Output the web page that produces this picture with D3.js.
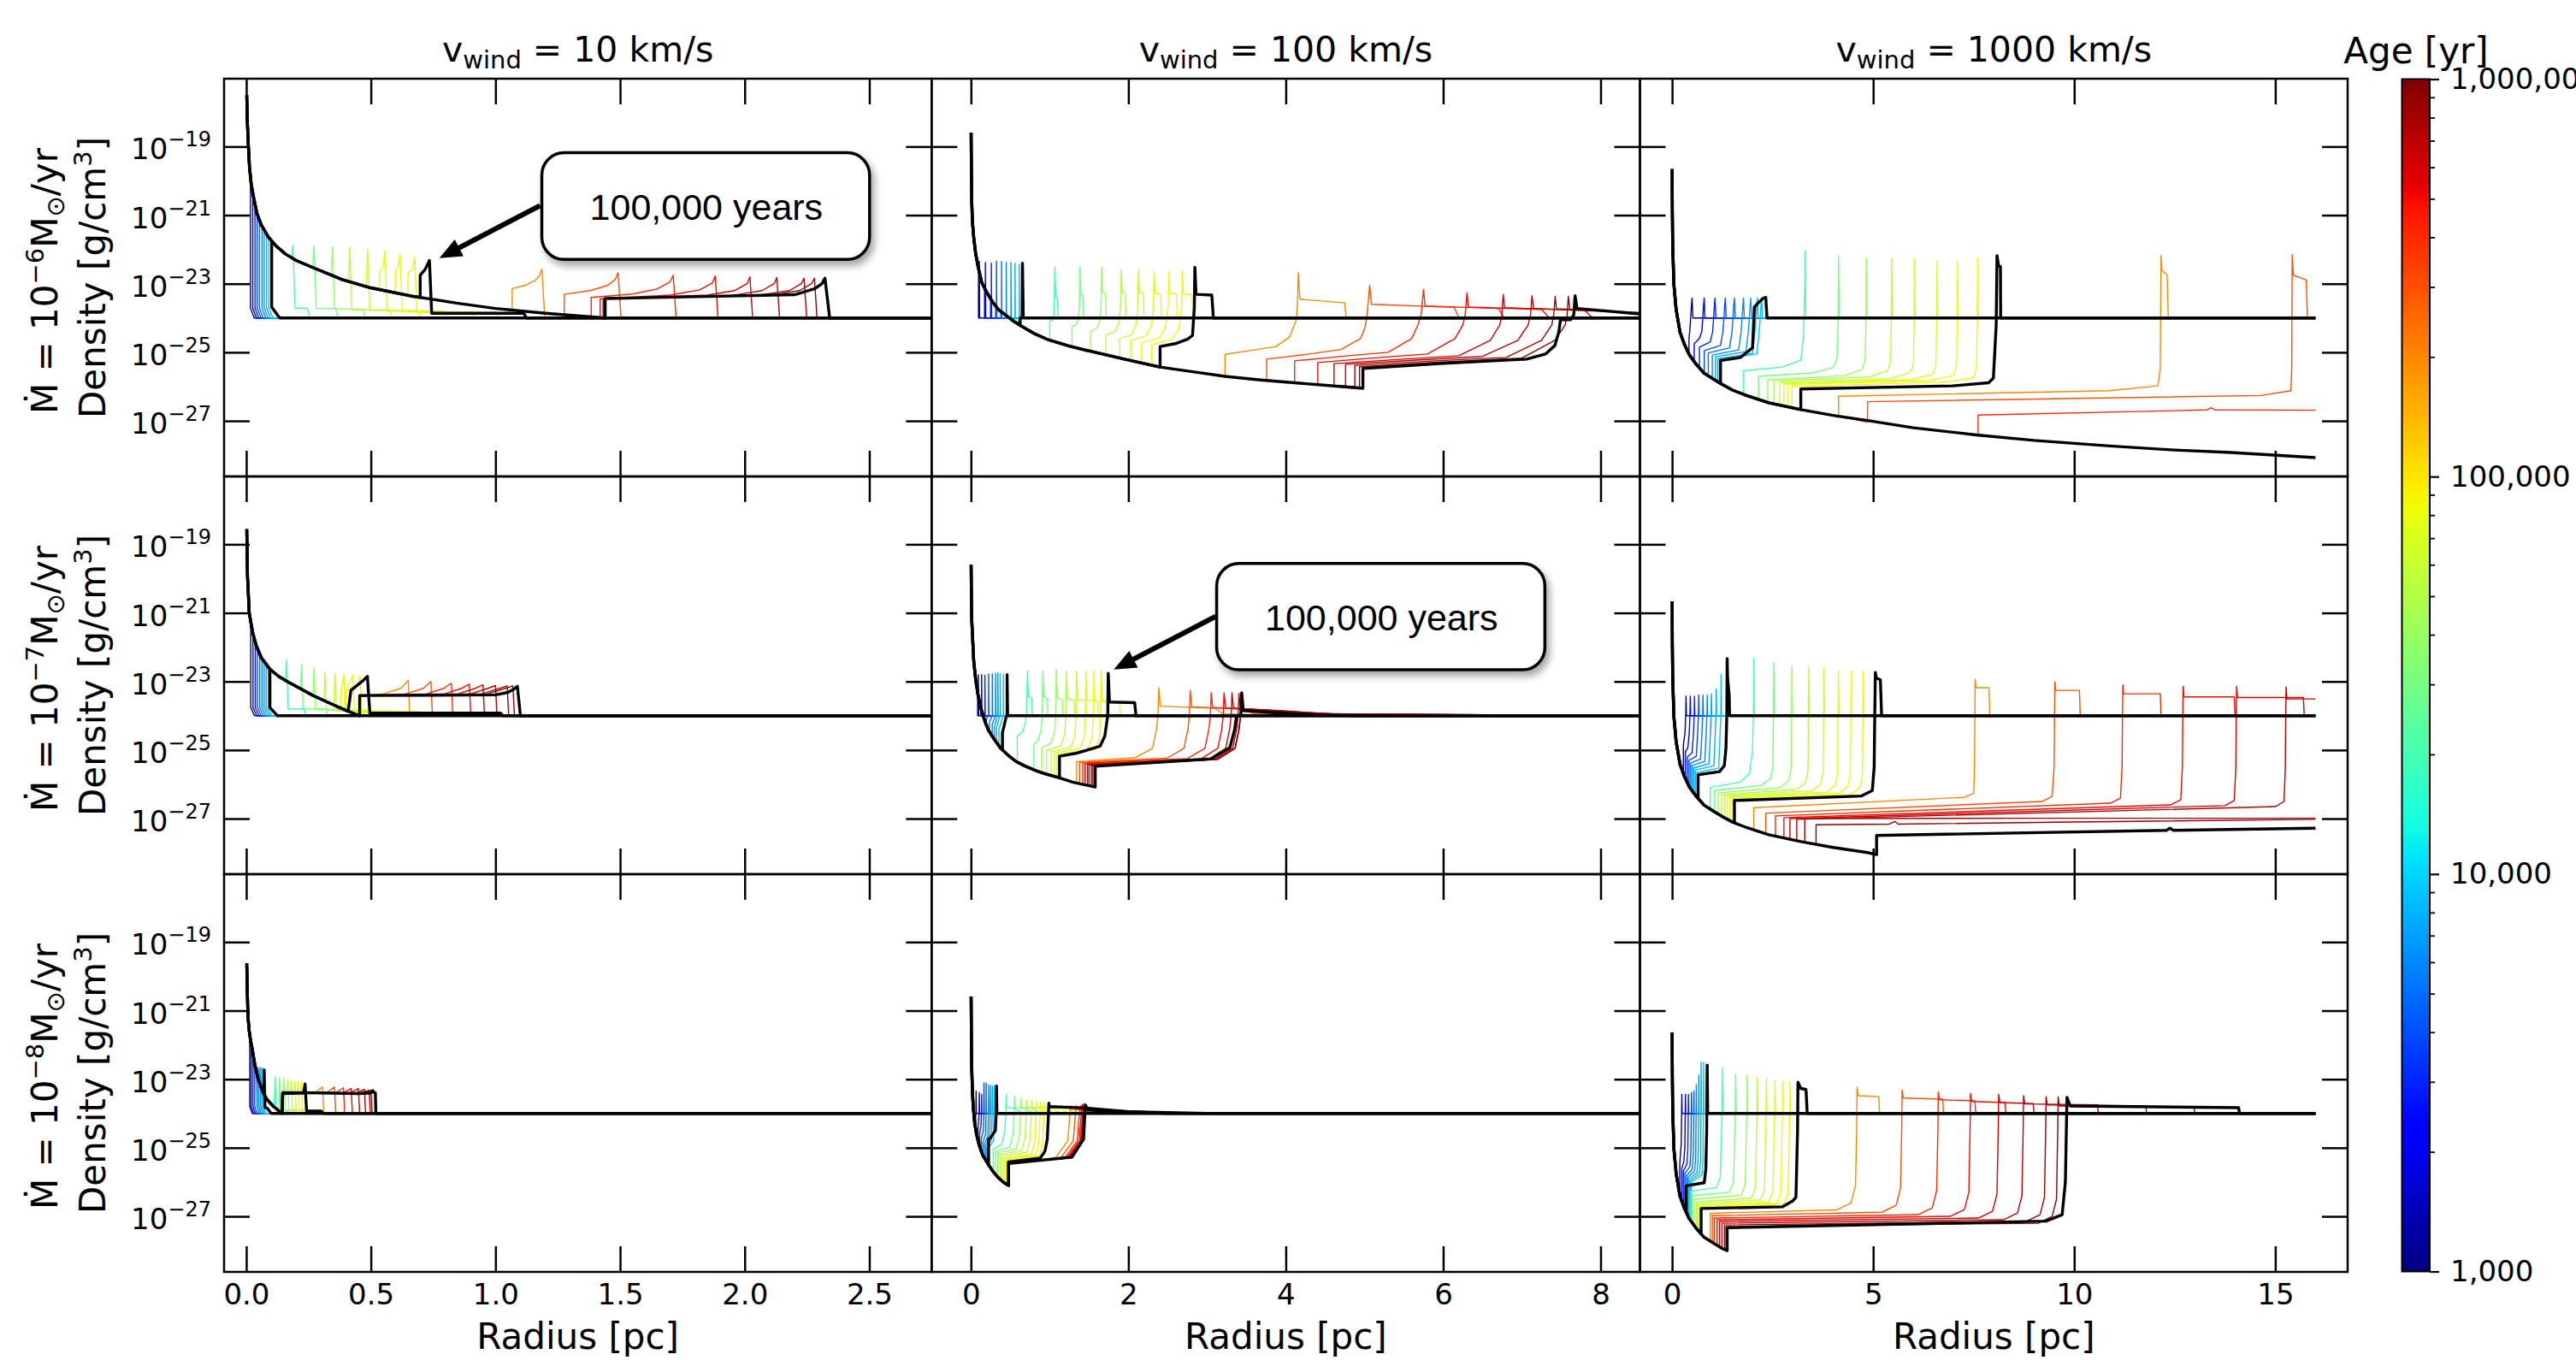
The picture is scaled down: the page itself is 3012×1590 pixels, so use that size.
<!DOCTYPE html>
<html>
<head>
<meta charset="utf-8">
<script src="https://cdn.jsdelivr.net/npm/d3@7"></script>
<style>
  body { margin: 0; background: #fff; }
  svg { display: block; }
</style>
</head>
<body>
<svg id="fig" width="3012" height="1590"></svg>
<script>
// ---- values: radius [pc], log10 density [g/cm^3] ----
const AMBIENT = -24;
const R_END = 16;
const BLACK_AGES = [1e4, 1e5, 1e6];

const COL_VWIND = ['10', '100', '1000'];
const ROW_MDOT = ['\u22126', '\u22127', '\u22128'];
const X_DOMAINS = [[-0.089, 2.75], [-0.5, 8.5], [-0.8, 16.8]];
const X_TICKS = [[0, 0.5, 1, 1.5, 2, 2.5], [0, 2, 4, 6, 8], [0, 5, 10, 15]];
const Y_DOMAIN = [-28.62, -17.02];
const Y_TICKS = [-19, -21, -23, -25, -27];
const AGE_TICKS = [1e3, 1e4, 1e5, 1e6];
const AGE_MINOR = [2e3,3e3,4e3,5e3,6e3,7e3,8e3,9e3,2e4,3e4,4e4,5e4,6e4,7e4,8e4,9e4,2e5,3e5,4e5,5e5,6e5,7e5,8e5,9e5];

// free-wind envelopes (black r^-2 part), one per panel
const env11 = [[0.002,-17.5],[0.004,-18.2],[0.008,-18.9],[0.013,-19.6],[0.02,-20.1],[0.03,-20.5],[0.043,-20.95],[0.06,-21.28],[0.088,-21.63],[0.12,-21.9],[0.157,-22.13],[0.2,-22.32],[0.271,-22.54],[0.385,-22.88],[0.5,-23.12],[0.671,-23.37],[0.85,-23.57],[1.0,-23.72],[1.2,-23.86],[1.44,-24.0]];
const env12 = [[0.002,-18.6],[0.006,-19.9],[0.01,-20.6],[0.018,-21.18],[0.035,-21.65],[0.059,-22.11],[0.09,-22.5],[0.135,-22.95],[0.2,-23.25],[0.28,-23.55],[0.36,-23.78],[0.45,-23.93],[0.54,-24.09],[0.636,-24.23],[0.8,-24.45],[0.99,-24.64],[1.25,-24.82],[1.52,-24.97],[1.95,-25.2],[2.4,-25.43],[2.8,-25.56],[3.23,-25.7],[3.65,-25.8],[4.11,-25.89],[4.55,-25.97],[4.98,-26.05]];
const env13 = [[0.002,-19.66],[0.006,-20.9],[0.015,-21.9],[0.045,-23.03],[0.1,-23.75],[0.196,-24.41],[0.3,-24.75],[0.421,-25.06],[0.6,-25.35],[0.797,-25.61],[1.0,-25.76],[1.249,-25.94],[1.5,-26.1],[1.85,-26.26],[2.4,-26.47],[3.2,-26.67],[4.0,-26.84],[4.86,-26.99],[6.0,-27.2],[7.57,-27.41],[9.0,-27.57],[10.88,-27.73],[12.5,-27.85],[13.89,-27.92],[16.0,-28.07]];
const env21 = [[0.002,-18.56],[0.005,-19.93],[0.012,-21.0],[0.025,-21.55],[0.04,-21.95],[0.06,-22.3],[0.096,-22.65],[0.13,-22.85],[0.169,-23.02],[0.22,-23.22],[0.265,-23.4],[0.31,-23.55],[0.361,-23.72],[0.41,-23.87],[0.455,-24.0]];
const env22 = [[0.002,-19.6],[0.006,-20.7],[0.01,-21.2],[0.018,-21.6],[0.035,-22.4],[0.059,-22.93],[0.09,-23.4],[0.135,-23.85],[0.18,-24.18],[0.224,-24.43],[0.3,-24.7],[0.371,-24.93],[0.47,-25.15],[0.576,-25.34],[0.7,-25.48],[0.813,-25.59],[0.95,-25.7],[1.107,-25.8],[1.3,-25.94],[1.579,-26.08]];
const env23 = [[0.002,-20.66],[0.006,-21.9],[0.015,-22.9],[0.045,-24.03],[0.1,-24.75],[0.196,-25.41],[0.3,-25.75],[0.421,-26.06],[0.6,-26.35],[0.797,-26.61],[1.0,-26.76],[1.249,-26.94],[1.5,-27.1],[1.85,-27.26],[2.4,-27.47],[3.2,-27.67],[4.0,-27.84],[4.86,-27.99],[5.085,-28.05]];
const env31 = [[0.002,-19.62],[0.004,-20.4],[0.007,-21.19],[0.012,-21.6],[0.018,-21.9],[0.024,-22.12],[0.035,-22.6],[0.048,-23.0],[0.065,-23.35],[0.084,-23.6],[0.11,-23.8],[0.144,-24.0]];
const env32 = [[0.002,-20.59],[0.006,-22.0],[0.01,-22.7],[0.018,-23.35],[0.03,-23.85],[0.047,-24.28],[0.07,-24.6],[0.106,-24.94],[0.15,-25.22],[0.224,-25.5],[0.283,-25.7],[0.342,-25.86],[0.41,-26.0],[0.477,-26.1]];
const env33 = [[0.002,-21.64],[0.006,-22.9],[0.015,-23.9],[0.045,-25.03],[0.1,-25.75],[0.196,-26.41],[0.3,-26.75],[0.421,-27.06],[0.6,-27.35],[0.797,-27.61],[1.0,-27.76],[1.249,-27.94],[1.37,-28.0]];

// profiles: [age, r0, logrho0, r1, logrho1, ...] — the part after leaving the free wind
const cur11 = [
  [1000, 0.017,-19.9, 0.017,-23.71, 0.032,-24],
  [2000, 0.026,-20.32, 0.026,-23.71, 0.041,-24],
  [3000, 0.035,-20.65, 0.035,-23.71, 0.05,-24],
  [4000, 0.044,-20.98, 0.044,-23.71, 0.059,-24],
  [5000, 0.053,-21.15, 0.053,-23.71, 0.068,-24],
  [6000, 0.063,-21.31, 0.063,-23.7, 0.078,-24],
  [7000, 0.072,-21.43, 0.072,-23.7, 0.087,-24],
  [8000, 0.081,-21.55, 0.081,-23.7, 0.097,-24],
  [9000, 0.09,-21.65, 0.09,-23.69, 0.107,-24],
  [10000, 0.102,-21.75, 0.102,-23.68, 0.134,-24],
  [20000, 0.182,-22.24, 0.187,-21.88, 0.196,-23.71, 0.245,-23.71, 0.255,-24],
  [30000, 0.267,-22.53, 0.272,-21.9, 0.281,-23.72, 0.359,-23.72, 0.369,-24],
  [40000, 0.341,-22.76, 0.346,-21.93, 0.355,-23.74, 0.468,-23.74, 0.478,-24],
  [50000, 0.41,-22.93, 0.415,-21.94, 0.424,-23.76, 0.576,-23.76, 0.586,-24],
  [60000, 0.482,-23.1, 0.487,-21.99, 0.496,-23.78, 0.691,-23.78, 0.701,-24],
  [70000, 0.535,-23.19, 0.535,-22.63, 0.55,-22.5, 0.556,-22.04, 0.565,-23.8, 0.794,-23.8, 0.804,-24],
  [80000, 0.598,-23.28, 0.598,-22.63, 0.61,-22.5, 0.617,-22.13, 0.626,-23.82, 0.902,-23.82, 0.912,-24],
  [90000, 0.649,-23.35, 0.649,-22.71, 0.668,-22.55, 0.676,-22.23, 0.685,-23.84, 1.005,-23.84, 1.015,-24],
  [100000, 0.698,-23.4, 0.698,-22.75, 0.718,-22.58, 0.735,-22.32, 0.744,-23.86, 1.114,-23.86, 1.124,-24],
  [200000, 1.067,-23.74, 1.067,-23.14, 1.12,-23.05, 1.16,-22.9, 1.178,-22.75, 1.186,-22.57, 1.198,-24],
  [300000, 1.276,-23.9, 1.276,-23.31, 1.38,-23.2, 1.45,-23.05, 1.48,-22.88, 1.492,-22.68, 1.504,-24],
  [400000, 1.384,-23.97, 1.384,-23.4, 1.55,-23.3, 1.65,-23.15, 1.7,-22.95, 1.713,-22.75, 1.725,-24],
  [500000, 1.42,-24, 1.42,-23.44, 1.7,-23.33, 1.82,-23.18, 1.87,-22.98, 1.882,-22.78, 1.893,-24],
  [600000, 1.432,-24, 1.432,-23.44, 1.85,-23.33, 1.96,-23.2, 2.01,-23.0, 2.021,-22.8, 2.032,-24],
  [700000, 1.435,-24, 1.435,-23.44, 1.95,-23.34, 2.07,-23.2, 2.118,-23.0, 2.129,-22.82, 2.14,-24],
  [800000, 1.437,-24, 1.437,-23.44, 2.05,-23.34, 2.18,-23.2, 2.227,-23.0, 2.238,-22.84, 2.249,-24],
  [900000, 1.438,-24, 1.438,-23.44, 2.1,-23.34, 2.22,-23.2, 2.268,-23.0, 2.28,-22.84, 2.29,-24],
  [1000000, 1.44,-24, 1.44,-23.43, 2.2,-23.32, 2.28,-23.15, 2.31,-23.0, 2.322,-22.84, 2.341,-24]
];
const cur12 = [
  [1000, 0.096,-22.5, 0.096,-24, 0.106,-24, 0.106,-22.34, 0.11,-24],
  [2000, 0.173,-23.2, 0.173,-24, 0.183,-24, 0.183,-22.38, 0.187,-24],
  [3000, 0.249,-23.45, 0.249,-24, 0.259,-24, 0.259,-22.4, 0.263,-24],
  [4000, 0.314,-23.62, 0.314,-24, 0.324,-24, 0.324,-22.34, 0.328,-24],
  [5000, 0.379,-23.8, 0.379,-24, 0.389,-24, 0.389,-22.35, 0.393,-24],
  [6000, 0.438,-23.92, 0.438,-24, 0.448,-24, 0.448,-22.38, 0.452,-24],
  [7000, 0.497,-24.03, 0.497,-24, 0.507,-24, 0.507,-22.38, 0.511,-24],
  [8000, 0.55,-24.1, 0.55,-24, 0.56,-24, 0.56,-22.4, 0.564,-24],
  [9000, 0.603,-24.18, 0.603,-24, 0.613,-24, 0.613,-22.43, 0.617,-24],
  [10000, 0.625,-24.21, 0.625,-24, 0.65,-24, 0.654,-22.4, 0.665,-24],
  [20000, 1.001,-24.65, 1.001,-24.1, 1.04,-24.05, 1.055,-23.9, 1.066,-22.5, 1.078,-23.4, 1.1,-23.42, 1.107,-24],
  [30000, 1.284,-24.83, 1.284,-24.25, 1.34,-24.18, 1.365,-24.0, 1.378,-23.7, 1.384,-22.5, 1.396,-23.3, 1.42,-23.32, 1.43,-24],
  [40000, 1.52,-24.97, 1.52,-24.4, 1.6,-24.3, 1.635,-24.1, 1.652,-23.7, 1.661,-22.52, 1.673,-23.25, 1.71,-23.28, 1.72,-24],
  [50000, 1.714,-25.07, 1.714,-24.5, 1.83,-24.4, 1.88,-24.15, 1.9,-23.7, 1.909,-22.6, 1.921,-23.25, 1.96,-23.28, 1.97,-24],
  [60000, 1.891,-25.17, 1.891,-24.6, 2.04,-24.48, 2.1,-24.2, 2.118,-23.7, 2.127,-22.57, 2.139,-23.25, 2.19,-23.28, 2.2,-24],
  [70000, 2.032,-25.24, 2.032,-24.65, 2.22,-24.52, 2.29,-24.25, 2.318,-23.7, 2.327,-22.63, 2.339,-23.28, 2.41,-23.3, 2.42,-24],
  [80000, 2.168,-25.31, 2.168,-24.72, 2.39,-24.58, 2.47,-24.3, 2.505,-23.7, 2.515,-22.66, 2.527,-23.28, 2.61,-23.3, 2.62,-24],
  [90000, 2.297,-25.38, 2.297,-24.78, 2.55,-24.62, 2.64,-24.35, 2.676,-23.7, 2.686,-22.64, 2.698,-23.3, 2.81,-23.32, 2.82,-24],
  [100000, 2.403,-25.43, 2.403,-24.83, 2.61,-24.74, 2.75,-24.62, 2.815,-24.51, 2.838,-23.7, 2.845,-22.52, 2.86,-23.31, 3.06,-23.33, 3.08,-24],
  [200000, 3.228,-25.7, 3.228,-25.06, 3.6,-24.93, 3.876,-24.83, 4.05,-24.55, 4.135,-24.05, 4.15,-23.5, 4.159,-22.68, 4.18,-23.45, 4.748,-23.56, 4.77,-24],
  [300000, 3.758,-25.8, 3.758,-25.2, 4.3,-25.05, 4.7,-24.92, 4.95,-24.6, 5.0,-24.32, 5.03,-24.0, 5.066,-23.05, 5.09,-23.6, 6.14,-23.69, 6.2,-24],
  [400000, 4.112,-25.89, 4.112,-25.25, 4.8,-25.1, 5.3,-25.0, 5.6,-24.6, 5.68,-24.2, 5.72,-23.9, 5.75,-23.17, 5.77,-23.65, 6.7,-23.72, 6.78,-24],
  [500000, 4.407,-25.94, 4.407,-25.3, 5.2,-25.15, 5.8,-25.05, 6.15,-24.6, 6.25,-24.2, 6.28,-23.9, 6.303,-23.26, 6.32,-23.68, 7.25,-23.75, 7.35,-24],
  [600000, 4.613,-25.97, 4.613,-25.33, 5.5,-25.2, 6.2,-25.1, 6.6,-24.65, 6.72,-24.2, 6.745,-23.9, 6.763,-23.31, 6.78,-23.7, 7.8,-23.78, 7.9,-24],
  [700000, 4.76,-25.99, 4.76,-25.35, 5.7,-25.22, 6.5,-25.12, 6.95,-24.65, 7.08,-24.2, 7.11,-23.9, 7.128,-23.35, 7.15,-23.72, 8.2,-23.82, 8.5,-23.9, 9,-24],
  [800000, 4.878,-26.0, 4.878,-25.38, 5.9,-25.25, 6.8,-25.15, 7.25,-24.65, 7.38,-24.2, 7.405,-23.9, 7.423,-23.37, 7.44,-23.73, 8.5,-23.84, 9,-24],
  [900000, 4.937,-26.02, 4.937,-25.42, 6.0,-25.28, 7.0,-25.17, 7.42,-24.65, 7.55,-24.2, 7.575,-23.9, 7.59,-23.37, 7.61,-23.74, 8.5,-23.86, 9,-24],
  [1000000, 4.98,-26.05, 4.98,-25.47, 6.0,-25.32, 7.06,-25.2, 7.3,-25.05, 7.42,-24.8, 7.47,-24.4, 7.49,-24.05, 7.62,-24.05, 7.66,-23.9, 7.676,-23.35, 7.7,-23.72, 8.5,-23.88, 9,-24]
];
const cur13 = [
  [1000, 0.42,-25.06, 0.42,-24.6, 0.437,-24.4, 0.462,-24.0, 0.482,-23.6, 0.497,-23.42, 0.517,-24],
  [2000, 0.55,-25.3, 0.55,-24.75, 0.678,-24.6, 0.738,-24.4, 0.763,-24.0, 0.783,-23.6, 0.798,-23.42, 0.818,-24],
  [3000, 0.68,-25.48, 0.68,-24.85, 0.948,-24.7, 1.008,-24.4, 1.033,-24.0, 1.053,-23.6, 1.068,-23.42, 1.088,-24],
  [4000, 0.8,-25.61, 0.8,-24.95, 1.204,-24.8, 1.264,-24.4, 1.289,-24.0, 1.309,-23.6, 1.324,-23.42, 1.344,-24],
  [5000, 0.9,-25.7, 0.9,-25.02, 1.43,-24.87, 1.49,-24.4, 1.515,-24.0, 1.535,-23.6, 1.55,-23.42, 1.57,-24],
  [6000, 1.0,-25.76, 1.0,-25.08, 1.656,-24.93, 1.716,-24.4, 1.741,-24.0, 1.761,-23.6, 1.776,-23.42, 1.796,-24],
  [7000, 1.08,-25.83, 1.08,-25.13, 1.836,-24.98, 1.896,-24.4, 1.921,-24.0, 1.941,-23.6, 1.956,-23.42, 1.976,-24],
  [8000, 1.14,-25.87, 1.14,-25.18, 2.001,-25.03, 2.061,-24.4, 2.086,-24.0, 2.106,-23.6, 2.121,-23.42, 2.141,-24],
  [9000, 1.18,-25.9, 1.18,-25.2, 2.107,-25.05, 2.167,-24.4, 2.192,-24.0, 2.212,-23.6, 2.227,-23.42, 2.247,-24],
  [10000, 1.204,-25.91, 1.204,-25.24, 1.7,-25.15, 2.0,-24.87, 2.046,-23.68, 2.15,-23.55, 2.27,-23.42, 2.33,-23.4, 2.36,-24],
  [20000, 1.776,-26.2, 1.776,-25.54, 2.75,-25.43, 3.2,-25.23, 3.27,-24.5, 3.3,-23.0, 3.31,-22.04, 3.325,-24],
  [30000, 2.15,-26.33, 2.15,-25.7, 3.5,-25.6, 4.0,-25.45, 4.1,-25.2, 4.13,-24.2, 4.14,-22.18, 4.155,-24],
  [40000, 2.38,-26.42, 2.38,-25.8, 4.3,-25.68, 4.72,-25.5, 4.8,-25.25, 4.82,-24.2, 4.83,-22.25, 4.845,-24],
  [50000, 2.53,-26.47, 2.53,-25.84, 4.9,-25.72, 5.35,-25.55, 5.43,-25.3, 5.45,-24.2, 5.46,-22.25, 5.475,-24],
  [60000, 2.68,-26.52, 2.68,-25.89, 5.4,-25.77, 5.92,-25.6, 6.0,-25.35, 6.02,-24.2, 6.03,-22.27, 6.045,-24],
  [70000, 2.78,-26.55, 2.78,-25.92, 5.9,-25.8, 6.48,-25.65, 6.56,-25.4, 6.58,-24.2, 6.59,-22.32, 6.605,-24],
  [80000, 2.87,-26.58, 2.87,-25.94, 6.4,-25.82, 7.0,-25.68, 7.07,-25.4, 7.09,-24.2, 7.1,-22.34, 7.115,-24],
  [90000, 2.98,-26.61, 2.98,-26.0, 6.9,-25.86, 7.5,-25.74, 7.57,-25.45, 7.59,-24.2, 7.6,-22.26, 7.615,-24],
  [100000, 3.2,-26.67, 3.2,-26.07, 6.97,-25.98, 7.87,-25.89, 7.99,-25.75, 8.06,-24.2, 8.08,-22.18, 8.12,-22.48, 8.165,-22.5, 8.17,-24],
  [200000, 4.14,-26.9, 4.14,-26.28, 10.88,-26.12, 12.08,-25.98, 12.14,-25.5, 12.16,-22.18, 12.18,-22.6, 12.31,-22.75, 12.34,-24],
  [300000, 4.86,-27.04, 4.86,-26.44, 14.64,-26.26, 15.39,-26.12, 15.41,-25.5, 15.42,-22.15, 15.45,-22.75, 15.77,-22.89, 15.8,-24],
  [400000, 7.61,-27.44, 7.61,-26.83, 13.3,-26.68, 13.4,-26.62, 13.5,-26.68, 16.0,-26.69],
  [1000000]
];
const cur21 = [
  [1000, 0.018,-21.2, 0.018,-23.76, 0.033,-24],
  [2000, 0.027,-21.6, 0.027,-23.76, 0.042,-24],
  [3000, 0.036,-21.85, 0.036,-23.76, 0.051,-24],
  [4000, 0.045,-22.03, 0.045,-23.76, 0.06,-24],
  [5000, 0.054,-22.2, 0.054,-23.76, 0.069,-24],
  [6000, 0.063,-22.33, 0.063,-23.76, 0.078,-24],
  [7000, 0.072,-22.45, 0.072,-23.76, 0.087,-24],
  [8000, 0.08,-22.53, 0.08,-23.76, 0.095,-24],
  [9000, 0.088,-22.6, 0.088,-23.76, 0.103,-24],
  [10000, 0.095,-22.65, 0.095,-23.76, 0.125,-24],
  [20000, 0.158,-22.97, 0.162,-22.37, 0.168,-23.8, 0.231,-23.8, 0.241,-24],
  [30000, 0.218,-23.21, 0.222,-22.51, 0.228,-23.8, 0.32,-23.8, 0.33,-24],
  [40000, 0.268,-23.41, 0.272,-22.6, 0.278,-23.82, 0.41,-23.82, 0.42,-24],
  [50000, 0.312,-23.56, 0.316,-22.75, 0.322,-23.84, 0.5,-23.84, 0.51,-24],
  [60000, 0.352,-23.69, 0.356,-22.76, 0.362,-23.86, 0.59,-23.86, 0.6,-24],
  [70000, 0.38,-23.78, 0.38,-23.3, 0.392,-22.8, 0.398,-23.88, 0.69,-23.88, 0.7,-24],
  [80000, 0.395,-23.82, 0.395,-23.3, 0.428,-22.8, 0.434,-23.9, 0.79,-23.9, 0.8,-24],
  [90000, 0.4,-23.84, 0.4,-23.28, 0.45,-23.05, 0.457,-22.83, 0.463,-23.91, 0.9,-23.91, 0.91,-24],
  [100000, 0.409,-23.87, 0.42,-23.26, 0.468,-22.98, 0.486,-22.85, 0.496,-23.92, 1.02,-23.92, 1.03,-24],
  [200000, 0.455,-24, 0.455,-23.42, 0.55,-23.36, 0.62,-23.2, 0.65,-22.97, 0.656,-24],
  [300000, 0.455,-24, 0.455,-23.42, 0.641,-23.36, 0.711,-23.2, 0.741,-23.0, 0.747,-24],
  [400000, 0.455,-24, 0.455,-23.42, 0.723,-23.36, 0.793,-23.2, 0.823,-23.05, 0.829,-24],
  [500000, 0.455,-24, 0.455,-23.42, 0.795,-23.36, 0.865,-23.2, 0.895,-23.08, 0.901,-24],
  [600000, 0.455,-24, 0.455,-23.42, 0.85,-23.36, 0.92,-23.2, 0.95,-23.1, 0.956,-24],
  [700000, 0.455,-24, 0.455,-23.42, 0.9,-23.36, 0.97,-23.2, 1.0,-23.12, 1.006,-24],
  [800000, 0.455,-24, 0.455,-23.42, 0.947,-23.36, 1.017,-23.2, 1.047,-23.13, 1.053,-24],
  [900000, 0.455,-24, 0.455,-23.42, 0.97,-23.36, 1.04,-23.2, 1.07,-23.13, 1.076,-24],
  [1000000, 0.455,-24, 0.455,-23.41, 1.0,-23.39, 1.05,-23.32, 1.075,-23.22, 1.088,-23.14, 1.1,-24]
];
const cur22 = [
  [1000, 0.085,-23.33, 0.085,-24, 0.094,-24, 0.094,-22.8, 0.098,-24],
  [2000, 0.125,-23.76, 0.125,-24, 0.135,-24, 0.135,-22.8, 0.139,-24],
  [3000, 0.16,-24.05, 0.16,-24, 0.177,-24, 0.177,-22.82, 0.181,-24],
  [4000, 0.195,-24.28, 0.195,-24.1, 0.215,-24.02, 0.224,-24, 0.224,-22.78, 0.228,-24],
  [5000, 0.235,-24.47, 0.235,-24.2, 0.26,-24.05, 0.271,-24, 0.271,-22.78, 0.275,-24],
  [6000, 0.27,-24.6, 0.27,-24.25, 0.3,-24.06, 0.312,-24, 0.312,-22.76, 0.316,-24],
  [7000, 0.3,-24.7, 0.3,-24.3, 0.33,-24.06, 0.342,-24, 0.342,-22.75, 0.346,-24],
  [8000, 0.325,-24.79, 0.325,-24.35, 0.36,-24.06, 0.371,-24, 0.371,-22.76, 0.375,-24],
  [9000, 0.355,-24.88, 0.355,-24.4, 0.4,-24.06, 0.412,-24, 0.412,-22.78, 0.416,-24],
  [10000, 0.4,-25.0, 0.4,-24.5, 0.44,-24.1, 0.45,-24.0, 0.459,-24, 0.459,-22.8, 0.466,-24],
  [20000, 0.589,-25.36, 0.589,-24.59, 0.66,-24.45, 0.69,-24.2, 0.705,-24.0, 0.719,-22.68, 0.73,-23.45, 0.77,-23.48, 0.78,-24],
  [30000, 0.8,-25.58, 0.8,-24.84, 0.86,-24.7, 0.89,-24.4, 0.905,-24.0, 0.913,-22.7, 0.925,-23.45, 0.97,-23.5, 0.98,-24],
  [40000, 0.9,-25.66, 0.9,-24.93, 1.02,-24.8, 1.06,-24.5, 1.076,-24.0, 1.084,-22.65, 1.096,-23.48, 1.16,-23.52, 1.17,-24],
  [50000, 0.96,-25.7, 0.96,-25.01, 1.14,-24.88, 1.19,-24.55, 1.206,-24.0, 1.214,-22.7, 1.226,-23.5, 1.31,-23.55, 1.32,-24],
  [60000, 1.02,-25.74, 1.02,-25.05, 1.27,-24.92, 1.32,-24.6, 1.335,-24.0, 1.343,-22.7, 1.355,-23.52, 1.46,-23.57, 1.47,-24],
  [70000, 1.06,-25.77, 1.06,-25.09, 1.38,-24.95, 1.44,-24.62, 1.453,-24.0, 1.461,-22.72, 1.473,-23.54, 1.61,-23.58, 1.62,-24],
  [80000, 1.09,-25.79, 1.09,-25.14, 1.48,-24.98, 1.54,-24.65, 1.553,-24.0, 1.561,-22.68, 1.573,-23.56, 1.75,-23.6, 1.76,-24],
  [90000, 1.11,-25.8, 1.11,-25.16, 1.57,-25.0, 1.63,-24.67, 1.647,-24.0, 1.655,-22.68, 1.667,-23.58, 1.89,-23.6, 1.9,-24],
  [100000, 1.125,-25.81, 1.125,-25.18, 1.343,-25.09, 1.64,-24.89, 1.7,-24.6, 1.738,-24.0, 1.744,-22.76, 1.76,-23.6, 2.08,-23.62, 2.097,-24],
  [200000, 1.343,-25.95, 1.343,-25.34, 2.09,-25.22, 2.306,-24.95, 2.356,-24.4, 2.376,-24.0, 2.386,-23.18, 2.406,-23.72, 3.1,-23.78, 3.2,-23.95, 4.5,-23.99, 6,-24],
  [300000, 1.38,-25.97, 1.38,-25.36, 2.49,-25.24, 2.706,-24.95, 2.756,-24.4, 2.776,-24.0, 2.786,-23.26, 2.806,-23.74, 3.4,-23.8, 3.6,-23.93, 5,-23.98, 7,-24],
  [400000, 1.42,-25.99, 1.42,-25.38, 2.75,-25.25, 2.972,-24.95, 3.022,-24.4, 3.042,-24.0, 3.052,-23.33, 3.072,-23.76, 3.6,-23.82, 3.9,-23.93, 5.5,-23.98, 7.5,-24],
  [500000, 1.45,-26.01, 1.45,-25.4, 2.92,-25.26, 3.136,-24.95, 3.186,-24.4, 3.206,-24.0, 3.216,-23.33, 3.236,-23.77, 3.8,-23.84, 4.2,-23.93, 6,-23.98, 8,-24],
  [600000, 1.48,-26.03, 1.48,-25.42, 3.02,-25.27, 3.236,-24.95, 3.286,-24.4, 3.306,-24.0, 3.316,-23.33, 3.336,-23.78, 3.9,-23.85, 4.4,-23.94, 6.5,-23.98, 8.5,-24],
  [700000, 1.5,-26.04, 1.5,-25.44, 3.1,-25.27, 3.325,-24.95, 3.375,-24.4, 3.395,-24.0, 3.405,-23.35, 3.425,-23.8, 4.0,-23.86, 4.5,-23.94, 7,-23.98, 9,-24],
  [800000, 1.53,-26.06, 1.53,-25.45, 3.13,-25.27, 3.354,-24.95, 3.404,-24.4, 3.424,-24.0, 3.434,-23.35, 3.454,-23.8, 4.0,-23.87, 4.6,-23.95, 7,-23.98, 9,-24],
  [900000, 1.55,-26.07, 1.55,-25.46, 3.14,-25.27, 3.357,-24.95, 3.407,-24.4, 3.427,-24.0, 3.437,-23.35, 3.457,-23.82, 4.0,-23.88, 4.6,-23.95, 7,-23.98, 9,-24],
  [1000000, 1.579,-26.08, 1.579,-25.47, 3.05,-25.26, 3.29,-24.93, 3.35,-24.4, 3.375,-24.0, 3.43,-23.98, 3.44,-23.33, 3.46,-23.85, 4.0,-23.93, 4.4,-23.98, 5,-24]
];
const cur23 = [
  [1000, 0.28,-25.69, 0.28,-24.9, 0.286,-24.78, 0.321,-24.5, 0.338,-24.0, 0.346,-23.43, 0.356,-24],
  [2000, 0.33,-25.83, 0.33,-25.05, 0.392,-24.93, 0.427,-24.5, 0.444,-24.0, 0.452,-23.43, 0.462,-24],
  [3000, 0.38,-25.95, 0.38,-25.2, 0.497,-25.08, 0.532,-24.5, 0.549,-24.0, 0.557,-23.43, 0.567,-24],
  [4000, 0.42,-26.06, 0.42,-25.3, 0.602,-25.18, 0.637,-24.5, 0.654,-24.0, 0.662,-23.4, 0.672,-24],
  [5000, 0.46,-26.13, 0.46,-25.38, 0.708,-25.26, 0.743,-24.5, 0.76,-24.0, 0.768,-23.4, 0.778,-24],
  [6000, 0.5,-26.19, 0.5,-25.45, 0.813,-25.33, 0.848,-24.5, 0.865,-24.0, 0.873,-23.4, 0.883,-24],
  [7000, 0.54,-26.25, 0.54,-25.52, 0.918,-25.4, 0.953,-24.5, 0.97,-24.0, 0.978,-23.36, 0.988,-24],
  [8000, 0.58,-26.32, 0.58,-25.58, 1.038,-25.46, 1.073,-24.5, 1.09,-24.0, 1.098,-23.22, 1.108,-24],
  [9000, 0.62,-26.38, 0.62,-25.65, 1.159,-25.53, 1.194,-24.5, 1.211,-24.0, 1.219,-22.8, 1.229,-24],
  [10000, 0.647,-26.4, 0.647,-25.72, 1.18,-25.63, 1.3,-25.45, 1.34,-24.93, 1.36,-24.0, 1.369,-22.33, 1.38,-22.9, 1.42,-23.4, 1.43,-24],
  [20000, 0.95,-26.72, 0.95,-26.09, 1.7,-25.93, 1.93,-25.68, 2.0,-25.0, 2.02,-24.0, 2.031,-22.33, 2.045,-24],
  [30000, 1.05,-26.8, 1.05,-26.18, 2.227,-26.03, 2.447,-25.83, 2.507,-25.48, 2.519,-24.0, 2.527,-22.45, 2.542,-24],
  [40000, 1.15,-26.87, 1.15,-26.25, 2.679,-26.1, 2.899,-25.9, 2.959,-25.55, 2.971,-24.0, 2.979,-22.55, 2.994,-24],
  [50000, 1.23,-26.93, 1.23,-26.3, 3.1,-26.15, 3.32,-25.95, 3.38,-25.6, 3.392,-24.0, 3.4,-22.58, 3.415,-24],
  [60000, 1.3,-26.97, 1.3,-26.34, 3.476,-26.19, 3.696,-25.99, 3.756,-25.64, 3.768,-24.0, 3.776,-22.61, 3.791,-24],
  [70000, 1.37,-27.01, 1.37,-26.38, 3.837,-26.23, 4.057,-26.03, 4.117,-25.68, 4.129,-24.0, 4.137,-22.68, 4.152,-24],
  [80000, 1.43,-27.04, 1.43,-26.41, 4.153,-26.26, 4.373,-26.06, 4.433,-25.71, 4.445,-24.0, 4.453,-22.7, 4.468,-24],
  [90000, 1.5,-27.07, 1.5,-26.44, 4.454,-26.29, 4.674,-26.09, 4.734,-25.74, 4.746,-24.0, 4.754,-22.72, 4.769,-24],
  [100000, 1.55,-27.09, 1.55,-26.47, 4.71,-26.34, 4.98,-26.18, 5.025,-25.5, 5.04,-24.0, 5.055,-22.74, 5.08,-22.9, 5.18,-22.95, 5.21,-24],
  [200000, 2.03,-27.33, 2.03,-26.68, 7.27,-26.38, 7.5,-26.26, 7.52,-25.5, 7.53,-24.0, 7.537,-22.93, 7.56,-23.18, 7.88,-23.18, 7.9,-24],
  [300000, 2.33,-27.44, 2.33,-26.84, 9.2,-26.5, 9.45,-26.35, 9.5,-25.5, 9.51,-24, 9.52,-23.01, 9.54,-23.26, 10.13,-23.26, 10.15,-24],
  [400000, 2.57,-27.53, 2.57,-26.92, 10.9,-26.55, 11.15,-26.4, 11.19,-25.5, 11.2,-24, 11.21,-23.1, 11.23,-23.36, 12.14,-23.36, 12.16,-24],
  [500000, 2.78,-27.58, 2.78,-26.97, 12.4,-26.6, 12.65,-26.45, 12.69,-25.5, 12.7,-24, 12.71,-23.14, 12.73,-23.45, 13.98,-23.45, 14.0,-24],
  [600000, 2.93,-27.62, 2.93,-27.0, 13.75,-26.62, 13.98,-26.47, 14.02,-25.5, 14.03,-24, 14.04,-23.14, 14.06,-23.47, 15.7,-23.47, 15.72,-24],
  [700000, 3.1,-27.65, 3.1,-27.02, 15.0,-26.65, 15.22,-26.5, 15.25,-25.5, 15.26,-24, 15.27,-23.16, 15.29,-23.51, 16,-23.51],
  [800000, 3.3,-27.69, 3.3,-27.0, 9,-26.99, 16,-26.99],
  [900000, 3.58,-27.75, 3.58,-27.18, 5.4,-27.16, 5.54,-27.08, 5.62,-27.16, 10,-27.1, 16,-27.02],
  [1000000, 5.085,-28.05, 5.085,-27.49, 12.3,-27.34, 12.38,-27.28, 12.46,-27.34, 16,-27.28]
];
const cur31 = [
  [1000, 0.014,-21.7, 0.014,-23.8, 0.024,-24],
  [2000, 0.02,-21.95, 0.02,-23.8, 0.03,-24],
  [3000, 0.027,-22.25, 0.027,-23.8, 0.037,-24],
  [4000, 0.034,-22.55, 0.034,-23.8, 0.044,-24],
  [5000, 0.039,-22.75, 0.041,-22.68, 0.044,-23.8, 0.053,-24],
  [6000, 0.046,-22.95, 0.048,-22.66, 0.051,-23.8, 0.06,-24],
  [7000, 0.053,-23.13, 0.055,-22.66, 0.058,-23.8, 0.067,-24],
  [8000, 0.059,-23.25, 0.061,-22.66, 0.064,-23.8, 0.073,-24],
  [9000, 0.065,-23.35, 0.067,-22.68, 0.07,-23.8, 0.079,-24],
  [10000, 0.07,-23.45, 0.072,-22.73, 0.075,-23.82, 0.085,-23.85, 0.1,-24],
  [20000, 0.112,-23.8, 0.116,-22.92, 0.12,-23.9, 0.16,-23.92, 0.17,-24],
  [30000, 0.13,-23.92, 0.134,-22.97, 0.138,-23.9, 0.19,-23.92, 0.2,-24],
  [40000, 0.144,-24, 0.146,-23.45, 0.147,-23.42, 0.151,-22.97, 0.155,-23.9, 0.22,-23.92, 0.23,-24],
  [50000, 0.144,-24, 0.146,-23.42, 0.162,-23.4, 0.167,-23.02, 0.171,-23.9, 0.24,-23.92, 0.25,-24],
  [60000, 0.144,-24, 0.146,-23.42, 0.177,-23.4, 0.182,-23.05, 0.186,-23.9, 0.26,-23.92, 0.27,-24],
  [70000, 0.144,-24, 0.146,-23.42, 0.191,-23.4, 0.196,-23.06, 0.2,-23.9, 0.28,-23.92, 0.29,-24],
  [80000, 0.144,-24, 0.146,-23.42, 0.204,-23.4, 0.209,-23.06, 0.213,-23.9, 0.29,-23.92, 0.3,-24],
  [90000, 0.144,-24, 0.146,-23.42, 0.217,-23.4, 0.222,-23.09, 0.226,-23.9, 0.3,-23.92, 0.31,-24],
  [100000, 0.144,-24, 0.146,-23.42, 0.23,-23.4, 0.236,-23.14, 0.242,-23.92, 0.3,-23.93, 0.31,-24],
  [200000, 0.144,-24, 0.146,-23.42, 0.276,-23.39, 0.306,-23.23, 0.311,-24],
  [300000, 0.144,-24, 0.146,-23.42, 0.324,-23.39, 0.354,-23.23, 0.359,-24],
  [400000, 0.144,-24, 0.146,-23.42, 0.36,-23.39, 0.39,-23.25, 0.395,-24],
  [500000, 0.144,-24, 0.146,-23.42, 0.391,-23.39, 0.421,-23.27, 0.426,-24],
  [600000, 0.144,-24, 0.146,-23.42, 0.42,-23.39, 0.45,-23.27, 0.455,-24],
  [700000, 0.144,-24, 0.146,-23.42, 0.444,-23.39, 0.474,-23.3, 0.479,-24],
  [800000, 0.144,-24, 0.146,-23.42, 0.463,-23.39, 0.493,-23.32, 0.498,-24],
  [900000, 0.144,-24, 0.146,-23.42, 0.47,-23.39, 0.5,-23.32, 0.505,-24],
  [1000000, 0.144,-24, 0.146,-23.39, 0.3,-23.4, 0.45,-23.42, 0.5,-23.4, 0.508,-23.33, 0.513,-23.39, 0.518,-23.4, 0.52,-24]
];
const cur32 = [
  [1000, 0.06,-24.47, 0.06,-24.1, 0.063,-24.0, 0.065,-23.35, 0.069,-24],
  [2000, 0.09,-24.78, 0.09,-24.4, 0.098,-24.15, 0.104,-24.0, 0.106,-23.39, 0.11,-24],
  [3000, 0.11,-24.97, 0.11,-24.6, 0.127,-24.35, 0.133,-24.0, 0.135,-23.44, 0.139,-24],
  [4000, 0.13,-25.1, 0.13,-24.75, 0.157,-24.5, 0.163,-24.0, 0.165,-23.11, 0.169,-24],
  [5000, 0.15,-25.22, 0.15,-24.85, 0.186,-24.6, 0.192,-24.0, 0.194,-23.11, 0.198,-24],
  [6000, 0.17,-25.32, 0.17,-24.9, 0.216,-24.65, 0.222,-24.0, 0.224,-23.16, 0.228,-24],
  [7000, 0.185,-25.38, 0.185,-24.95, 0.239,-24.7, 0.245,-24.0, 0.247,-23.18, 0.251,-24],
  [8000, 0.2,-25.42, 0.2,-25.0, 0.263,-24.75, 0.269,-24.0, 0.271,-23.2, 0.275,-24],
  [9000, 0.21,-25.46, 0.21,-25.05, 0.286,-24.8, 0.292,-24.0, 0.294,-23.2, 0.298,-24],
  [10000, 0.224,-25.5, 0.224,-24.75, 0.25,-24.7, 0.31,-24.5, 0.318,-24.1, 0.324,-23.2, 0.33,-24],
  [20000, 0.283,-25.7, 0.283,-25.03, 0.388,-24.91, 0.428,-24.53, 0.443,-24.0, 0.448,-23.44, 0.454,-23.82, 0.55,-23.85, 0.65,-24],
  [30000, 0.31,-25.77, 0.31,-25.1, 0.494,-24.98, 0.534,-24.6, 0.549,-24.0, 0.554,-23.51, 0.56,-23.82, 0.68,-23.85, 0.78,-24],
  [40000, 0.34,-25.84, 0.34,-25.15, 0.576,-25.03, 0.616,-24.65, 0.631,-24.0, 0.636,-23.55, 0.642,-23.82, 0.78,-23.85, 0.88,-24],
  [50000, 0.37,-25.92, 0.37,-25.2, 0.647,-25.08, 0.687,-24.7, 0.702,-24.0, 0.707,-23.61, 0.713,-23.82, 0.87,-23.85, 0.97,-24],
  [60000, 0.39,-25.96, 0.39,-25.25, 0.712,-25.13, 0.752,-24.75, 0.767,-24.0, 0.772,-23.63, 0.778,-23.82, 0.96,-23.85, 1.06,-24],
  [70000, 0.41,-26.0, 0.41,-25.3, 0.771,-25.18, 0.811,-24.8, 0.826,-24.0, 0.831,-23.64, 0.837,-23.82, 1.05,-23.85, 1.15,-24],
  [80000, 0.43,-26.04, 0.43,-25.33, 0.824,-25.21, 0.864,-24.83, 0.879,-24.0, 0.884,-23.67, 0.89,-23.82, 1.14,-23.85, 1.24,-24],
  [90000, 0.45,-26.07, 0.45,-25.36, 0.871,-25.24, 0.911,-24.86, 0.926,-24.0, 0.931,-23.67, 0.937,-23.82, 1.23,-23.85, 1.33,-24],
  [100000, 0.477,-26.1, 0.477,-25.41, 0.88,-25.3, 0.94,-25.1, 0.97,-24.75, 0.985,-24.0, 0.99,-23.7, 0.995,-23.8, 1.46,-23.84, 2.0,-23.95, 2.5,-24],
  [200000, 0.477,-26.1, 0.477,-25.45, 1.07,-25.3, 1.23,-24.8, 1.258,-24.0, 1.27,-23.77, 1.28,-23.88, 1.77,-23.95, 2.47,-24],
  [300000, 0.477,-26.1, 0.477,-25.45, 1.14,-25.3, 1.3,-24.8, 1.328,-24.0, 1.34,-23.77, 1.35,-23.88, 1.84,-23.95, 2.54,-24],
  [400000, 0.477,-26.1, 0.477,-25.45, 1.19,-25.3, 1.35,-24.8, 1.378,-24.0, 1.39,-23.77, 1.4,-23.88, 1.89,-23.95, 2.59,-24],
  [500000, 0.477,-26.1, 0.477,-25.45, 1.214,-25.3, 1.374,-24.8, 1.402,-24.0, 1.414,-23.74, 1.424,-23.88, 1.914,-23.95, 2.614,-24],
  [600000, 0.477,-26.1, 0.477,-25.45, 1.232,-25.3, 1.392,-24.8, 1.42,-24.0, 1.432,-23.72, 1.442,-23.88, 1.932,-23.95, 2.632,-24],
  [700000, 0.477,-26.1, 0.477,-25.45, 1.243,-25.3, 1.403,-24.8, 1.431,-24.0, 1.443,-23.72, 1.453,-23.88, 1.943,-23.95, 2.643,-24],
  [800000, 0.477,-26.1, 0.477,-25.45, 1.249,-25.3, 1.409,-24.8, 1.437,-24.0, 1.449,-23.72, 1.459,-23.88, 1.949,-23.95, 2.649,-24],
  [900000, 0.477,-26.1, 0.477,-25.45, 1.255,-25.3, 1.415,-24.8, 1.443,-24.0, 1.455,-23.72, 1.465,-23.88, 1.955,-23.95, 2.655,-24],
  [1000000, 0.477,-26.1, 0.477,-25.46, 1.284,-25.27, 1.431,-24.75, 1.449,-23.9, 1.461,-23.77, 1.47,-23.9, 2.0,-23.95, 3.0,-24]
];
const cur33 = [
  [1000, 0.19,-26.37, 0.19,-25.5, 0.201,-25.3, 0.226,-24.9, 0.237,-24.0, 0.241,-23.44, 0.249,-24],
  [2000, 0.24,-26.55, 0.24,-25.6, 0.291,-25.4, 0.316,-25.0, 0.327,-24.0, 0.331,-23.44, 0.339,-24],
  [3000, 0.28,-26.69, 0.28,-25.68, 0.366,-25.48, 0.391,-25.08, 0.402,-24.0, 0.406,-23.44, 0.414,-24],
  [4000, 0.32,-26.79, 0.32,-25.75, 0.442,-25.55, 0.467,-25.15, 0.478,-24.0, 0.482,-23.39, 0.49,-24],
  [5000, 0.36,-26.88, 0.36,-25.82, 0.502,-25.62, 0.527,-25.22, 0.538,-24.0, 0.542,-23.34, 0.55,-24],
  [6000, 0.39,-26.98, 0.39,-25.87, 0.562,-25.67, 0.587,-25.27, 0.598,-24.0, 0.602,-23.16, 0.61,-24],
  [7000, 0.42,-27.06, 0.42,-25.92, 0.622,-25.72, 0.647,-25.32, 0.658,-24.0, 0.662,-22.88, 0.67,-24],
  [8000, 0.45,-27.11, 0.45,-25.96, 0.682,-25.76, 0.707,-25.36, 0.718,-24.0, 0.722,-22.5, 0.73,-24],
  [9000, 0.48,-27.15, 0.48,-26.0, 0.742,-25.8, 0.767,-25.4, 0.778,-24.0, 0.782,-22.5, 0.79,-24],
  [10000, 0.346,-26.85, 0.346,-26.11, 0.8,-26.02, 0.84,-25.6, 0.86,-24.5, 0.873,-22.59, 0.885,-24],
  [20000, 0.466,-27.13, 0.466,-26.27, 1.099,-26.16, 1.199,-25.87, 1.239,-24.0, 1.249,-22.66, 1.264,-24],
  [30000, 0.5,-27.19, 0.5,-26.4, 1.43,-26.29, 1.53,-26.0, 1.57,-24.0, 1.58,-22.85, 1.595,-24],
  [40000, 0.55,-27.27, 0.55,-26.5, 1.716,-26.39, 1.816,-26.1, 1.856,-24.0, 1.866,-22.9, 1.881,-24],
  [50000, 0.6,-27.35, 0.6,-26.58, 1.971,-26.47, 2.071,-26.18, 2.111,-24.0, 2.121,-22.95, 2.136,-24],
  [60000, 0.63,-27.39, 0.63,-26.63, 2.197,-26.52, 2.297,-26.23, 2.337,-24.0, 2.347,-22.97, 2.362,-24],
  [70000, 0.66,-27.43, 0.66,-26.68, 2.408,-26.57, 2.508,-26.28, 2.548,-24.0, 2.558,-23.03, 2.573,-24],
  [80000, 0.69,-27.47, 0.69,-26.72, 2.604,-26.61, 2.704,-26.32, 2.744,-24.0, 2.754,-23.06, 2.769,-24],
  [90000, 0.71,-27.5, 0.71,-26.75, 2.784,-26.64, 2.884,-26.35, 2.924,-24.0, 2.934,-23.08, 2.949,-24],
  [100000, 0.722,-27.51, 0.722,-26.77, 2.75,-26.72, 3.0,-26.55, 3.08,-26.44, 3.12,-24.5, 3.13,-23.09, 3.2,-23.27, 3.33,-23.3, 3.36,-24],
  [200000, 0.95,-27.72, 0.95,-26.91, 4.1,-26.81, 4.45,-26.61, 4.56,-26.11, 4.59,-24.5, 4.6,-23.23, 4.63,-23.48, 5.14,-23.51, 5.16,-24],
  [300000, 1.0,-27.76, 1.0,-26.98, 5.22,-26.88, 5.57,-26.68, 5.68,-26.18, 5.71,-24.5, 5.72,-23.32, 5.75,-23.55, 6.73,-23.58, 6.75,-24],
  [400000, 1.05,-27.8, 1.05,-27.05, 6.12,-26.95, 6.47,-26.75, 6.58,-26.25, 6.61,-24.5, 6.62,-23.37, 6.65,-23.6, 7.53,-23.63, 7.55,-24],
  [500000, 1.12,-27.84, 1.12,-27.1, 6.92,-27.0, 7.27,-26.8, 7.38,-26.3, 7.41,-24.5, 7.42,-23.41, 7.45,-23.65, 8.28,-23.68, 8.3,-24],
  [600000, 1.18,-27.89, 1.18,-27.15, 7.62,-27.05, 7.97,-26.85, 8.08,-26.35, 8.11,-24.5, 8.12,-23.44, 8.15,-23.68, 8.98,-23.71, 9.0,-24],
  [700000, 1.24,-27.93, 1.24,-27.2, 8.24,-27.1, 8.59,-26.9, 8.7,-26.4, 8.73,-24.5, 8.74,-23.48, 8.77,-23.72, 10.58,-23.75, 10.6,-24],
  [800000, 1.3,-27.96, 1.3,-27.25, 8.8,-27.15, 9.15,-26.95, 9.26,-26.45, 9.29,-24.5, 9.3,-23.51, 9.33,-23.75, 11.78,-23.78, 11.8,-24],
  [900000, 1.34,-27.98, 1.34,-27.3, 9.1,-27.2, 9.45,-27.0, 9.56,-26.5, 9.59,-24.5, 9.6,-23.52, 9.63,-23.78, 12.98,-23.81, 13.0,-24],
  [1000000, 1.37,-28.0, 1.37,-27.33, 9.3,-27.14, 9.7,-26.95, 9.78,-26.0, 9.82,-23.53, 9.9,-23.78, 14.09,-23.83, 14.11,-24]
];

const PANELS = [
  [[env11, cur11], [env12, cur12], [env13, cur13]],
  [[env21, cur21], [env22, cur22], [env23, cur23]],
  [[env31, cur31], [env32, cur32], [env33, cur33]]
];

// call-outs: [row, col, box r0, box r1, box log top, box log bottom, text r, text log, arrow from r, log, arrow tip r, log]
const CALLOUTS = [
  [0, 0, 1.186, 2.501, -19.18, -22.29, 1.846, -21.14, 1.179, -20.72, 0.775, -22.25],
  [1, 1, 3.122, 7.292, -19.56, -22.66, 5.216, -21.52, 3.11, -21.10, 1.815, -22.65]
];

// ---- layout ----
const COL_EDGES = [262, 1089.3, 1917.5, 2745];
const ROW_EDGES = [92, 557, 1022, 1487];
const FONT = 'DejaVu Sans';
const TICK_LEN = 30;

const svg = d3.select('#fig');
const defs = svg.append('defs');

const shadow = defs.append('filter').attr('id', 'shadow')
  .attr('x', '-10%').attr('y', '-10%').attr('width', '130%').attr('height', '140%');
shadow.append('feDropShadow').attr('dx', 4).attr('dy', 6).attr('stdDeviation', 4)
  .attr('flood-color', '#000').attr('flood-opacity', 0.35);

// matplotlib 'jet'
const jetR = d3.scaleLinear().domain([0, 0.35, 0.66, 0.89, 1]).range([0, 0, 1, 1, 0.5]).clamp(true);
const jetG = d3.scaleLinear().domain([0, 0.125, 0.375, 0.64, 0.91, 1]).range([0, 0, 1, 1, 0, 0]).clamp(true);
const jetB = d3.scaleLinear().domain([0, 0.11, 0.34, 0.65, 1]).range([0.5, 1, 1, 0, 0]).clamp(true);
const jet = t => d3.rgb(255 * jetR(t), 255 * jetG(t), 255 * jetB(t)).formatHex();
const ageNorm = d3.scaleLog().domain([1e3, 1e6]).range([0, 1]);

const xScale = c => d3.scaleLinear().domain(X_DOMAINS[c]).range([COL_EDGES[c], COL_EDGES[c + 1]]);
const yScale = r => d3.scaleLog()
  .domain([Math.pow(10, Y_DOMAIN[0]), Math.pow(10, Y_DOMAIN[1])])
  .range([ROW_EDGES[r + 1], ROW_EDGES[r]]);

function profile(env, flat) {
  const pts = [];
  for (let i = 0; i < flat.length; i += 2) pts.push([flat[i], flat[i + 1]]);
  if (!pts.length) return env.slice();
  const out = env.filter(p => p[0] < pts[0][0]).concat(pts);
  const last = out[out.length - 1];
  if (last[1] === AMBIENT && last[0] < R_END) out.push([R_END, AMBIENT]);
  return out;
}

function styleAxis(g) {
  g.select('.domain').remove();
  g.selectAll('.tick line').attr('stroke', '#000').attr('stroke-width', 2.5);
  g.selectAll('.tick text').attr('font-family', FONT).attr('font-size', 34).attr('fill', '#000');
}

for (let r = 0; r < 3; r++) {
  for (let c = 0; c < 3; c++) {
    const x = xScale(c), y = yScale(r);
    const [x0, x1] = [COL_EDGES[c], COL_EDGES[c + 1]];
    const [y0, y1] = [ROW_EDGES[r], ROW_EDGES[r + 1]];
    const id = `clip${r}${c}`;
    defs.append('clipPath').attr('id', id)
      .append('rect').attr('x', x0).attr('y', y0).attr('width', x1 - x0).attr('height', y1 - y0);

    const [env, curves] = PANELS[r][c];
    const profs = curves.map(cv => ({ age: cv[0], black: BLACK_AGES.includes(cv[0]), pts: profile(env, cv.slice(1)) }));
    const ordered = profs.filter(p => !p.black).concat(profs.filter(p => p.black));

    const line = d3.line().x(d => x(d[0])).y(d => y(Math.pow(10, d[1])));
    svg.append('g').attr('clip-path', `url(#${id})`)
      .selectAll('path').data(ordered).join('path')
      .attr('d', d => line(d.pts))
      .attr('fill', 'none')
      .attr('stroke', d => d.black ? '#000' : jet(ageNorm(d.age)))
      .attr('stroke-width', d => d.black ? 3.4 : 1.4)
      .attr('stroke-linejoin', 'round');

    // axes, ticks pointing inwards on all four sides
    const bottom = svg.append('g').attr('transform', `translate(0,${y1})`)
      .call(d3.axisBottom(x).tickValues(X_TICKS[c]).tickSize(-TICK_LEN).tickPadding(14)
        .tickFormat(r === 2 ? d3.format(c === 0 ? '.1f' : 'd') : () => ''));
    styleAxis(bottom);
    const top = svg.append('g').attr('transform', `translate(0,${y0})`)
      .call(d3.axisTop(x).tickValues(X_TICKS[c]).tickSize(-TICK_LEN).tickFormat(() => ''));
    styleAxis(top);
    const yt = Y_TICKS.map(v => Math.pow(10, v));
    const left = svg.append('g').attr('transform', `translate(${x0},0)`)
      .call(d3.axisLeft(y).tickValues(yt).tickSize(-TICK_LEN).tickPadding(15).tickFormat(() => ''));
    styleAxis(left);
    if (c === 0) {
      left.selectAll('.tick text').each(function (d) {
        const t = d3.select(this).attr('dy', '0.43em');
        t.append('tspan').text('10');
        t.append('tspan').attr('font-size', 24).attr('dy', -15)
          .text('\u2212' + Math.abs(Math.round(Math.log10(d))));
      });
    }
    const right = svg.append('g').attr('transform', `translate(${x1},0)`)
      .call(d3.axisRight(y).tickValues(yt).tickSize(-TICK_LEN).tickFormat(() => ''));
    styleAxis(right);

    svg.append('rect').attr('x', x0).attr('y', y0).attr('width', x1 - x0).attr('height', y1 - y0)
      .attr('fill', 'none').attr('stroke', '#000').attr('stroke-width', 2.5);
  }
}

// column titles
COL_VWIND.forEach((v, c) => {
  const t = svg.append('text').attr('x', (COL_EDGES[c] + COL_EDGES[c + 1]) / 2).attr('y', 72)
    .attr('text-anchor', 'middle').attr('font-family', FONT).attr('font-size', 41);
  t.append('tspan').text('v');
  t.append('tspan').attr('font-size', 29).attr('dy', 8).text('wind');
  t.append('tspan').attr('dy', -8).text(` = ${v} km/s`);
});

// x labels
for (let c = 0; c < 3; c++) {
  svg.append('text').attr('x', (COL_EDGES[c] + COL_EDGES[c + 1]) / 2).attr('y', 1577)
    .attr('text-anchor', 'middle').attr('font-family', FONT).attr('font-size', 42).text('Radius [pc]');
}

// y labels
ROW_MDOT.forEach((m, r) => {
  const yc = (ROW_EDGES[r] + ROW_EDGES[r + 1]) / 2;
  const l1 = svg.append('text').attr('transform', `translate(67,${yc + 4}) rotate(-90)`)
    .attr('text-anchor', 'middle').attr('font-family', FONT).attr('font-size', 42);
  l1.append('tspan').text('\u1E40 = 10');
  l1.append('tspan').attr('font-size', 29).attr('dy', -16).text(m);
  l1.append('tspan').attr('dy', 16).text('M');
  l1.append('tspan').attr('font-size', 29).attr('dy', 8).text('\u2299');
  l1.append('tspan').attr('dy', -8).text('/yr');
  const l2 = svg.append('text').attr('transform', `translate(123,${yc}) rotate(-90)`)
    .attr('text-anchor', 'middle').attr('font-family', FONT).attr('font-size', 42);
  l2.append('tspan').text('Density [g/cm');
  l2.append('tspan').attr('font-size', 29).attr('dy', -16).text('3');
  l2.append('tspan').attr('dy', 16).text(']');
});

// call-out boxes
CALLOUTS.forEach(([r, c, br0, br1, bt, bb, tr, tl, ar, al, hr, hl]) => {
  const x = xScale(c), y = yScale(r);
  const Y = v => y(Math.pow(10, v));
  const g = svg.append('g');
  const sx = x(ar), sy = Y(al), tx = x(hr), ty = Y(hl);
  const len = Math.hypot(tx - sx, ty - sy), ux = (tx - sx) / len, uy = (ty - sy) / len;
  const head = 26, half = 11;
  const bx = tx - ux * head, by = ty - uy * head;
  g.append('line').attr('x1', sx).attr('y1', sy).attr('x2', bx + ux * 2).attr('y2', by + uy * 2)
    .attr('stroke', '#000').attr('stroke-width', 6);
  g.append('path')
    .attr('d', `M${tx},${ty}L${bx - uy * half},${by + ux * half}L${bx + uy * half},${by - ux * half}Z`)
    .attr('fill', '#000');
  g.append('rect').attr('x', x(br0)).attr('y', Y(bt)).attr('width', x(br1) - x(br0)).attr('height', Y(bb) - Y(bt))
    .attr('rx', 26).attr('fill', '#fff').attr('stroke', '#000').attr('stroke-width', 3.5)
    .attr('filter', 'url(#shadow)');
  g.append('text').attr('x', x(tr)).attr('y', Y(tl)).attr('text-anchor', 'middle')
    .attr('font-family', 'Liberation Sans').attr('font-size', 43).text('100,000 years');
});

// colour bar
const CB = { x: 2808.5, w: 32.5, y0: 92.5, y1: 1486.5 };
const grad = defs.append('linearGradient').attr('id', 'jetgrad')
  .attr('x1', 0).attr('y1', 1).attr('x2', 0).attr('y2', 0);
grad.selectAll('stop').data(d3.range(0, 1.0001, 0.01)).join('stop')
  .attr('offset', d => d).attr('stop-color', d => jet(d));
svg.append('rect').attr('x', CB.x).attr('y', CB.y0).attr('width', CB.w).attr('height', CB.y1 - CB.y0)
  .attr('fill', 'url(#jetgrad)').attr('stroke', '#000').attr('stroke-width', 2);
const cbScale = d3.scaleLog().domain([1e3, 1e6]).range([CB.y1, CB.y0]);
const cbMinor = svg.append('g').attr('transform', `translate(${CB.x + CB.w},0)`)
  .call(d3.axisRight(cbScale).tickValues(AGE_MINOR).tickSize(6).tickFormat(() => ''));
styleAxis(cbMinor);
cbMinor.selectAll('.tick line').attr('stroke-width', 1.8);
const cbMajor = svg.append('g').attr('transform', `translate(${CB.x + CB.w},0)`)
  .call(d3.axisRight(cbScale).tickValues(AGE_TICKS).tickSize(11).tickPadding(13).tickFormat(d3.format(',')));
styleAxis(cbMajor);
cbMajor.selectAll('.tick line').attr('stroke-width', 2.2);
svg.append('text').attr('x', 2825).attr('y', 74).attr('text-anchor', 'middle')
  .attr('font-family', FONT).attr('font-size', 42).text('Age [yr]');
</script>
</body>
</html>
